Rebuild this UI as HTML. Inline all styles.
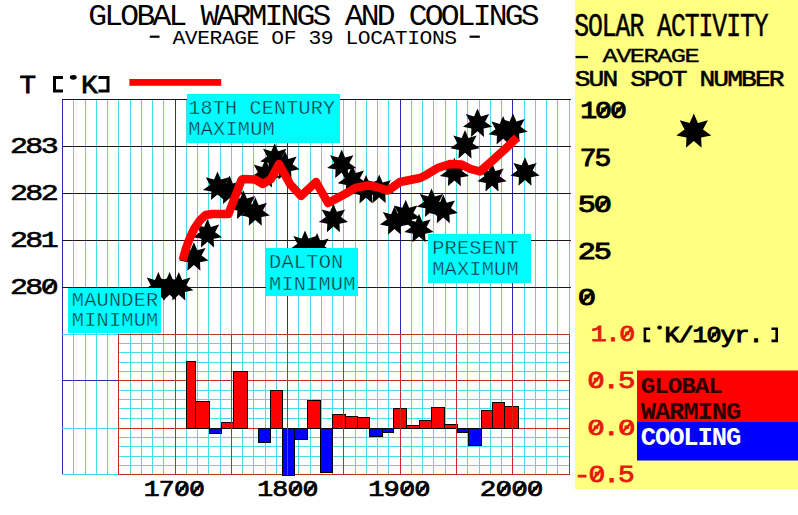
<!DOCTYPE html>
<html><head><meta charset="utf-8"><style>
html,body{margin:0;padding:0;background:#fff;}
svg{display:block;}
text{white-space:pre;}
</style></head><body>
<svg width="798" height="515" viewBox="0 0 798 515">
<rect x="0" y="0" width="798" height="515" fill="#fff"/>
<rect x="575" y="0" width="223" height="489" fill="#ffff80"/>
<g shape-rendering="crispEdges">
<rect x="62" y="99" width="1" height="376" fill="#2a2ab4"/>
<rect x="73" y="99" width="1" height="376" fill="#44dce8"/>
<rect x="85" y="99" width="1" height="376" fill="#44dce8"/>
<rect x="96" y="99" width="1" height="376" fill="#44dce8"/>
<rect x="107" y="99" width="1" height="376" fill="#44dce8"/>
<rect x="118" y="99" width="1" height="235" fill="#44dce8"/>
<rect x="130" y="99" width="1" height="376" fill="#44dce8"/>
<rect x="141" y="99" width="1" height="376" fill="#44dce8"/>
<rect x="152" y="99" width="1" height="376" fill="#44dce8"/>
<rect x="163" y="99" width="1" height="376" fill="#44dce8"/>
<rect x="175" y="99" width="1" height="235" fill="#2a2ab4"/>
<rect x="186" y="99" width="1" height="376" fill="#44dce8"/>
<rect x="197" y="99" width="1" height="376" fill="#44dce8"/>
<rect x="208" y="99" width="1" height="376" fill="#44dce8"/>
<rect x="220" y="99" width="1" height="376" fill="#44dce8"/>
<rect x="231" y="99" width="1" height="235" fill="#44dce8"/>
<rect x="242" y="99" width="1" height="376" fill="#44dce8"/>
<rect x="253" y="99" width="1" height="376" fill="#44dce8"/>
<rect x="265" y="99" width="1" height="376" fill="#44dce8"/>
<rect x="276" y="99" width="1" height="376" fill="#44dce8"/>
<rect x="287" y="99" width="1" height="235" fill="#2a2ab4"/>
<rect x="298" y="99" width="1" height="376" fill="#44dce8"/>
<rect x="310" y="99" width="1" height="376" fill="#44dce8"/>
<rect x="321" y="99" width="1" height="376" fill="#44dce8"/>
<rect x="332" y="99" width="1" height="376" fill="#44dce8"/>
<rect x="343" y="99" width="1" height="235" fill="#44dce8"/>
<rect x="355" y="99" width="1" height="376" fill="#44dce8"/>
<rect x="366" y="99" width="1" height="376" fill="#44dce8"/>
<rect x="377" y="99" width="1" height="376" fill="#44dce8"/>
<rect x="388" y="99" width="1" height="376" fill="#44dce8"/>
<rect x="400" y="99" width="1" height="235" fill="#2a2ab4"/>
<rect x="411" y="99" width="1" height="376" fill="#44dce8"/>
<rect x="422" y="99" width="1" height="376" fill="#44dce8"/>
<rect x="433" y="99" width="1" height="376" fill="#44dce8"/>
<rect x="445" y="99" width="1" height="376" fill="#44dce8"/>
<rect x="456" y="99" width="1" height="235" fill="#44dce8"/>
<rect x="467" y="99" width="1" height="376" fill="#44dce8"/>
<rect x="479" y="99" width="1" height="376" fill="#44dce8"/>
<rect x="490" y="99" width="1" height="376" fill="#44dce8"/>
<rect x="501" y="99" width="1" height="376" fill="#44dce8"/>
<rect x="512" y="99" width="1" height="235" fill="#2a2ab4"/>
<rect x="524" y="99" width="1" height="376" fill="#44dce8"/>
<rect x="535" y="99" width="1" height="376" fill="#44dce8"/>
<rect x="546" y="99" width="1" height="376" fill="#44dce8"/>
<rect x="557" y="99" width="1" height="376" fill="#44dce8"/>
<rect x="569" y="99" width="1" height="235" fill="#44dce8"/>
<rect x="62" y="99" width="509" height="1" fill="#181818"/>
<rect x="62" y="146" width="509" height="1" fill="#181818"/>
<rect x="62" y="193" width="509" height="1" fill="#181818"/>
<rect x="62" y="240" width="509" height="1" fill="#181818"/>
<rect x="62" y="287" width="509" height="1" fill="#181818"/>
<rect x="62" y="334" width="57" height="1" fill="#44dce8"/>
<rect x="62" y="380" width="57" height="1" fill="#2a2ab4"/>
<rect x="62" y="428" width="57" height="1" fill="#44dce8"/>
<rect x="62" y="474" width="57" height="1" fill="#44dce8"/>
<rect x="118" y="334" width="452" height="1" fill="#a8402e"/>
<rect x="118" y="343" width="452" height="1" fill="#44dce8"/>
<rect x="118" y="352" width="452" height="1" fill="#44dce8"/>
<rect x="118" y="362" width="452" height="1" fill="#44dce8"/>
<rect x="118" y="371" width="452" height="1" fill="#44dce8"/>
<rect x="118" y="380" width="452" height="1" fill="#c42a22"/>
<rect x="118" y="390" width="452" height="1" fill="#44dce8"/>
<rect x="118" y="399" width="452" height="1" fill="#44dce8"/>
<rect x="118" y="408" width="452" height="1" fill="#44dce8"/>
<rect x="118" y="418" width="452" height="1" fill="#44dce8"/>
<rect x="118" y="428" width="452" height="1" fill="#c42a22"/>
<rect x="118" y="437" width="452" height="1" fill="#44dce8"/>
<rect x="118" y="446" width="452" height="1" fill="#44dce8"/>
<rect x="118" y="456" width="452" height="1" fill="#44dce8"/>
<rect x="118" y="465" width="452" height="1" fill="#44dce8"/>
<rect x="118" y="474" width="452" height="1" fill="#c42a22"/>
<rect x="186.5" y="361.5" width="9" height="67" fill="#ff0000" stroke="#000" stroke-width="1"/>
<rect x="195.5" y="401.5" width="14" height="27" fill="#ff0000" stroke="#000" stroke-width="1"/>
<rect x="209.5" y="428.5" width="12" height="5" fill="#0000ff" stroke="#000" stroke-width="1"/>
<rect x="221.5" y="422.5" width="12" height="6" fill="#ff0000" stroke="#000" stroke-width="1"/>
<rect x="233.5" y="371.5" width="14" height="57" fill="#ff0000" stroke="#000" stroke-width="1"/>
<rect x="258.5" y="428.5" width="12" height="14" fill="#0000ff" stroke="#000" stroke-width="1"/>
<rect x="270.5" y="390.5" width="12" height="38" fill="#ff0000" stroke="#000" stroke-width="1"/>
<rect x="282.5" y="428.5" width="12" height="47" fill="#0000ff" stroke="#000" stroke-width="1"/>
<rect x="294.5" y="428.5" width="13" height="11" fill="#0000ff" stroke="#000" stroke-width="1"/>
<rect x="307.5" y="400.5" width="13" height="28" fill="#ff0000" stroke="#000" stroke-width="1"/>
<rect x="320.5" y="428.5" width="12" height="44" fill="#0000ff" stroke="#000" stroke-width="1"/>
<rect x="332.5" y="414.5" width="13" height="14" fill="#ff0000" stroke="#000" stroke-width="1"/>
<rect x="345.5" y="416.5" width="12" height="12" fill="#ff0000" stroke="#000" stroke-width="1"/>
<rect x="357.5" y="417.5" width="12" height="11" fill="#ff0000" stroke="#000" stroke-width="1"/>
<rect x="369.5" y="428.5" width="13" height="8" fill="#0000ff" stroke="#000" stroke-width="1"/>
<rect x="382.5" y="428.5" width="11" height="4" fill="#0000ff" stroke="#000" stroke-width="1"/>
<rect x="393.5" y="408.5" width="13" height="20" fill="#ff0000" stroke="#000" stroke-width="1"/>
<rect x="406.5" y="425.5" width="13" height="3" fill="#ff0000" stroke="#000" stroke-width="1"/>
<rect x="419.5" y="420.5" width="12" height="8" fill="#ff0000" stroke="#000" stroke-width="1"/>
<rect x="431.5" y="407.5" width="13" height="21" fill="#ff0000" stroke="#000" stroke-width="1"/>
<rect x="444.5" y="424.5" width="13" height="4" fill="#ff0000" stroke="#000" stroke-width="1"/>
<rect x="457.5" y="428.5" width="11" height="4" fill="#0000ff" stroke="#000" stroke-width="1"/>
<rect x="468.5" y="428.5" width="13" height="17" fill="#0000ff" stroke="#000" stroke-width="1"/>
<rect x="481.5" y="410.5" width="11" height="18" fill="#ff0000" stroke="#000" stroke-width="1"/>
<rect x="492.5" y="402.5" width="12" height="26" fill="#ff0000" stroke="#000" stroke-width="1"/>
<rect x="504.5" y="406.5" width="14" height="22" fill="#ff0000" stroke="#000" stroke-width="1"/>
<rect x="118" y="334" width="1" height="141" fill="#c42a22"/>
<rect x="175" y="334" width="1" height="141" fill="#c42a22"/>
<rect x="231" y="334" width="1" height="141" fill="#c42a22"/>
<rect x="287" y="334" width="1" height="141" fill="#c42a22"/>
<rect x="343" y="334" width="1" height="141" fill="#c42a22"/>
<rect x="400" y="334" width="1" height="141" fill="#c42a22"/>
<rect x="456" y="334" width="1" height="141" fill="#c42a22"/>
<rect x="512" y="334" width="1" height="141" fill="#c42a22"/>
<rect x="569" y="334" width="1" height="141" fill="#c42a22"/>
</g>
<path d="M158.4,272.0 L161.8,280.0 L170.1,277.6 L166.0,285.3 L173.0,290.3 L164.5,291.9 L164.9,300.5 L158.4,294.8 L151.9,300.5 L152.3,291.9 L143.8,290.3 L150.8,285.3 L146.7,277.6 L155.0,280.0Z" fill="#000"/>
<path d="M169.6,272.0 L173.0,280.0 L181.3,277.6 L177.2,285.3 L184.2,290.3 L175.7,291.9 L176.1,300.5 L169.6,294.8 L163.1,300.5 L163.5,291.9 L155.0,290.3 L162.0,285.3 L157.9,277.6 L166.2,280.0Z" fill="#000"/>
<path d="M178.8,272.0 L182.2,280.0 L190.5,277.6 L186.4,285.3 L193.4,290.3 L184.9,291.9 L185.3,300.5 L178.8,294.8 L172.3,300.5 L172.7,291.9 L164.2,290.3 L171.2,285.3 L167.1,277.6 L175.4,280.0Z" fill="#000"/>
<path d="M193.9,242.3 L197.3,250.3 L205.6,247.9 L201.5,255.6 L208.5,260.6 L200.0,262.2 L200.4,270.8 L193.9,265.1 L187.4,270.8 L187.8,262.2 L179.3,260.6 L186.3,255.6 L182.2,247.9 L190.5,250.3Z" fill="#000"/>
<path d="M207.5,218.9 L210.9,226.9 L219.2,224.5 L215.1,232.2 L222.1,237.2 L213.6,238.8 L214.0,247.4 L207.5,241.7 L201.0,247.4 L201.4,238.8 L192.9,237.2 L199.9,232.2 L195.8,224.5 L204.1,226.9Z" fill="#000"/>
<path d="M217.5,171.6 L220.9,179.6 L229.2,177.2 L225.1,184.9 L232.1,189.9 L223.6,191.5 L224.0,200.1 L217.5,194.4 L211.0,200.1 L211.4,191.5 L202.9,189.9 L209.9,184.9 L205.8,177.2 L214.1,179.6Z" fill="#000"/>
<path d="M229.5,175.5 L232.9,183.5 L241.2,181.1 L237.1,188.8 L244.1,193.8 L235.6,195.4 L236.0,204.0 L229.5,198.3 L223.0,204.0 L223.4,195.4 L214.9,193.8 L221.9,188.8 L217.8,181.1 L226.1,183.5Z" fill="#000"/>
<path d="M243.5,190.5 L246.9,198.5 L255.2,196.1 L251.1,203.8 L258.1,208.8 L249.6,210.4 L250.0,219.0 L243.5,213.3 L237.0,219.0 L237.4,210.4 L228.9,208.8 L235.9,203.8 L231.8,196.1 L240.1,198.5Z" fill="#000"/>
<path d="M255.3,197.2 L258.7,205.2 L267.0,202.8 L262.9,210.5 L269.9,215.5 L261.4,217.1 L261.8,225.7 L255.3,220.0 L248.8,225.7 L249.2,217.1 L240.7,215.5 L247.7,210.5 L243.6,202.8 L251.9,205.2Z" fill="#000"/>
<path d="M265.5,159.0 L268.9,167.0 L277.2,164.6 L273.1,172.3 L280.1,177.3 L271.6,178.9 L272.0,187.5 L265.5,181.8 L259.0,187.5 L259.4,178.9 L250.9,177.3 L257.9,172.3 L253.8,164.6 L262.1,167.0Z" fill="#000"/>
<path d="M274.7,143.2 L278.1,151.2 L286.4,148.8 L282.3,156.5 L289.3,161.5 L280.8,163.1 L281.2,171.7 L274.7,166.0 L268.2,171.7 L268.6,163.1 L260.1,161.5 L267.1,156.5 L263.0,148.8 L271.3,151.2Z" fill="#000"/>
<path d="M285.0,151.0 L288.4,159.0 L296.7,156.6 L292.6,164.3 L299.6,169.3 L291.1,170.9 L291.5,179.5 L285.0,173.8 L278.5,179.5 L278.9,170.9 L270.4,169.3 L277.4,164.3 L273.3,156.6 L281.6,159.0Z" fill="#000"/>
<path d="M305.0,230.5 L308.4,238.5 L316.7,236.1 L312.6,243.8 L319.6,248.8 L311.1,250.4 L311.5,259.0 L305.0,253.3 L298.5,259.0 L298.9,250.4 L290.4,248.8 L297.4,243.8 L293.3,236.1 L301.6,238.5Z" fill="#000"/>
<path d="M317.0,233.0 L320.4,241.0 L328.7,238.6 L324.6,246.3 L331.6,251.3 L323.1,252.9 L323.5,261.5 L317.0,255.8 L310.5,261.5 L310.9,252.9 L302.4,251.3 L309.4,246.3 L305.3,238.6 L313.6,241.0Z" fill="#000"/>
<path d="M333.4,203.8 L336.8,211.8 L345.1,209.4 L341.0,217.1 L348.0,222.1 L339.5,223.7 L339.9,232.3 L333.4,226.6 L326.9,232.3 L327.3,223.7 L318.8,222.1 L325.8,217.1 L321.7,209.4 L330.0,211.8Z" fill="#000"/>
<path d="M341.7,149.6 L345.1,157.6 L353.4,155.2 L349.3,162.9 L356.3,167.9 L347.8,169.5 L348.2,178.1 L341.7,172.4 L335.2,178.1 L335.6,169.5 L327.1,167.9 L334.1,162.9 L330.0,155.2 L338.3,157.6Z" fill="#000"/>
<path d="M352.3,165.0 L355.7,173.0 L364.0,170.6 L359.9,178.3 L366.9,183.3 L358.4,184.9 L358.8,193.5 L352.3,187.8 L345.8,193.5 L346.2,184.9 L337.7,183.3 L344.7,178.3 L340.6,170.6 L348.9,173.0Z" fill="#000"/>
<path d="M366.0,175.0 L369.4,183.0 L377.7,180.6 L373.6,188.3 L380.6,193.3 L372.1,194.9 L372.5,203.5 L366.0,197.8 L359.5,203.5 L359.9,194.9 L351.4,193.3 L358.4,188.3 L354.3,180.6 L362.6,183.0Z" fill="#000"/>
<path d="M379.2,174.6 L382.6,182.6 L390.9,180.2 L386.8,187.9 L393.8,192.9 L385.3,194.5 L385.7,203.1 L379.2,197.4 L372.7,203.1 L373.1,194.5 L364.6,192.9 L371.6,187.9 L367.5,180.2 L375.8,182.6Z" fill="#000"/>
<path d="M394.5,206.3 L397.9,214.3 L406.2,211.9 L402.1,219.6 L409.1,224.6 L400.6,226.2 L401.0,234.8 L394.5,229.1 L388.0,234.8 L388.4,226.2 L379.9,224.6 L386.9,219.6 L382.8,211.9 L391.1,214.3Z" fill="#000"/>
<path d="M405.7,199.8 L409.1,207.8 L417.4,205.4 L413.3,213.1 L420.3,218.1 L411.8,219.7 L412.2,228.3 L405.7,222.6 L399.2,228.3 L399.6,219.7 L391.1,218.1 L398.1,213.1 L394.0,205.4 L402.3,207.8Z" fill="#000"/>
<path d="M419.0,213.8 L422.4,221.8 L430.7,219.4 L426.6,227.1 L433.6,232.1 L425.1,233.7 L425.5,242.3 L419.0,236.6 L412.5,242.3 L412.9,233.7 L404.4,232.1 L411.4,227.1 L407.3,219.4 L415.6,221.8Z" fill="#000"/>
<path d="M431.5,188.4 L434.9,196.4 L443.2,194.0 L439.1,201.7 L446.1,206.7 L437.6,208.3 L438.0,216.9 L431.5,211.2 L425.0,216.9 L425.4,208.3 L416.9,206.7 L423.9,201.7 L419.8,194.0 L428.1,196.4Z" fill="#000"/>
<path d="M443.3,194.8 L446.7,202.8 L455.0,200.4 L450.9,208.1 L457.9,213.1 L449.4,214.7 L449.8,223.3 L443.3,217.6 L436.8,223.3 L437.2,214.7 L428.7,213.1 L435.7,208.1 L431.6,200.4 L439.9,202.8Z" fill="#000"/>
<path d="M454.4,157.7 L457.8,165.7 L466.1,163.3 L462.0,171.0 L469.0,176.0 L460.5,177.6 L460.9,186.2 L454.4,180.5 L447.9,186.2 L448.3,177.6 L439.8,176.0 L446.8,171.0 L442.7,163.3 L451.0,165.7Z" fill="#000"/>
<path d="M465.0,130.0 L468.4,138.0 L476.7,135.6 L472.6,143.3 L479.6,148.3 L471.1,149.9 L471.5,158.5 L465.0,152.8 L458.5,158.5 L458.9,149.9 L450.4,148.3 L457.4,143.3 L453.3,135.6 L461.6,138.0Z" fill="#000"/>
<path d="M477.5,108.5 L480.9,116.5 L489.2,114.1 L485.1,121.8 L492.1,126.8 L483.6,128.4 L484.0,137.0 L477.5,131.3 L471.0,137.0 L471.4,128.4 L462.9,126.8 L469.9,121.8 L465.8,114.1 L474.1,116.5Z" fill="#000"/>
<path d="M492.0,163.0 L495.4,171.0 L503.7,168.6 L499.6,176.3 L506.6,181.3 L498.1,182.9 L498.5,191.5 L492.0,185.8 L485.5,191.5 L485.9,182.9 L477.4,181.3 L484.4,176.3 L480.3,168.6 L488.6,171.0Z" fill="#000"/>
<path d="M503.1,115.9 L506.5,123.9 L514.8,121.5 L510.7,129.2 L517.7,134.2 L509.2,135.8 L509.6,144.4 L503.1,138.7 L496.6,144.4 L497.0,135.8 L488.5,134.2 L495.5,129.2 L491.4,121.5 L499.7,123.9Z" fill="#000"/>
<path d="M513.0,113.5 L516.4,121.5 L524.7,119.1 L520.6,126.8 L527.6,131.8 L519.1,133.4 L519.5,142.0 L513.0,136.3 L506.5,142.0 L506.9,133.4 L498.4,131.8 L505.4,126.8 L501.3,119.1 L509.6,121.5Z" fill="#000"/>
<path d="M525.0,157.3 L528.4,165.3 L536.7,162.9 L532.6,170.6 L539.6,175.6 L531.1,177.2 L531.5,185.8 L525.0,180.1 L518.5,185.8 L518.9,177.2 L510.4,175.6 L517.4,170.6 L513.3,162.9 L521.6,165.3Z" fill="#000"/>
<polyline points="182.6,260.5 185.7,249.3 190,237.6 194.4,228.3 199.6,220.8 205.5,215 212,214 228.5,214 241.5,180 243,179 255,179.5 263,184 271,179 279,164 290,184 301,196 316,182 328,203 345,194 356,187.6 368,185.5 375,186.5 388,190.5 400,182 410,180 420,178 426.6,174.7 438.3,167.7 450,164 461.6,164.6 470.7,169 480,171.5 492,161 508,146.3 517,137.5" fill="none" stroke="#ff0000" stroke-width="8.5" stroke-linejoin="round" stroke-linecap="butt"/>
<rect x="187" y="94" width="153" height="49" fill="#00fcff"/><text transform="scale(1.0024,1)" x="193.91 206.11 218.32 230.52 242.72 254.93 267.13 279.33 291.54 303.74 315.94 328.15" y="113.9" text-anchor="middle" font-family="'Liberation Mono', monospace" font-size="20.04" font-weight="normal" fill="#0a2a30" stroke="#00fcff" stroke-width="0.45">18TH CENTURY</text><text transform="scale(1.0134,1)" x="191.85 204.05 216.26 228.46 240.66 252.87 265.07" y="135.2" text-anchor="middle" font-family="'Liberation Mono', monospace" font-size="20.04" font-weight="normal" fill="#0a2a30" stroke="#00fcff" stroke-width="0.45">MAXIMUM</text>
<rect x="266" y="248" width="92" height="48" fill="#00fcff"/><text transform="scale(1.0179,1)" x="270.30 282.51 294.71 306.91 319.12 331.32" y="268.0" text-anchor="middle" font-family="'Liberation Mono', monospace" font-size="20.04" font-weight="normal" fill="#0a2a30" stroke="#00fcff" stroke-width="0.45">DALTON</text><text transform="scale(1.0134,1)" x="271.48 283.68 295.89 308.09 320.29 332.50 344.70" y="289.8" text-anchor="middle" font-family="'Liberation Mono', monospace" font-size="20.04" font-weight="normal" fill="#0a2a30" stroke="#00fcff" stroke-width="0.45">MINIMUM</text>
<rect x="428" y="234" width="103" height="49" fill="#00fcff"/><text transform="scale(1.0134,1)" x="432.52 444.72 456.93 469.13 481.33 493.54 505.74" y="254.0" text-anchor="middle" font-family="'Liberation Mono', monospace" font-size="20.04" font-weight="normal" fill="#0a2a30" stroke="#00fcff" stroke-width="0.45">PRESENT</text><text transform="scale(1.0134,1)" x="432.52 444.72 456.93 469.13 481.33 493.54 505.74" y="275.0" text-anchor="middle" font-family="'Liberation Mono', monospace" font-size="20.04" font-weight="normal" fill="#0a2a30" stroke="#00fcff" stroke-width="0.45">MAXIMUM</text>
<rect x="68" y="288" width="93" height="45" fill="#00fcff"/><text transform="scale(1.0134,1)" x="76.89 89.10 101.30 113.50 125.71 137.91 150.11" y="305.8" text-anchor="middle" font-family="'Liberation Mono', monospace" font-size="20.04" font-weight="normal" fill="#0a2a30" stroke="#00fcff" stroke-width="0.45">MAUNDER</text><text transform="scale(1.0134,1)" x="76.89 89.10 101.30 113.50 125.71 137.91 150.11" y="326.4" text-anchor="middle" font-family="'Liberation Mono', monospace" font-size="20.04" font-weight="normal" fill="#0a2a30" stroke="#00fcff" stroke-width="0.45">MINIMUM</text>
<path d="M693.8,113.5 L697.9,123.0 L707.9,120.3 L703.0,129.4 L711.3,135.5 L701.1,137.4 L701.6,147.7 L693.8,140.9 L686.0,147.7 L686.5,137.4 L676.3,135.5 L684.6,129.4 L679.7,120.3 L689.7,123.0Z" fill="#000"/>
<rect x="637" y="370.5" width="161" height="51.5" fill="#ff0000"/><rect x="637" y="422" width="161" height="38.5" fill="#0000ff"/><text transform="scale(1.1046,1)" x="586.72 598.95 611.18 623.41 635.64 647.87" y="393.5" text-anchor="middle" font-family="'Liberation Mono', monospace" font-size="22.01" font-weight="bold" fill="#2a0000" >GLOBAL</text><text transform="scale(1.0591,1)" x="612.21 625.62 639.03 652.44 665.85 679.26 692.67" y="419.2" text-anchor="middle" font-family="'Liberation Mono', monospace" font-size="24.14" font-weight="bold" fill="#2a0000" >WARMING</text><text transform="scale(1.0084,1)" x="643.01 657.09 671.18 685.26 699.35 713.43 727.52" y="445.2" text-anchor="middle" font-family="'Liberation Mono', monospace" font-size="25.35" font-weight="bold" fill="#ffffff" >COOLING</text>
<text transform="scale(1.0594,1)" x="92.27 107.39 122.51 137.63 152.75 167.87 182.99 198.11 213.23 228.35 243.47 258.59 273.71 288.83 303.95 319.07 334.19 349.31 364.43 379.55 394.67 409.79 424.91 440.03 455.15 470.27 485.39 500.51" y="24.8" text-anchor="middle" font-family="'Liberation Mono', monospace" font-size="29.60" font-weight="normal" fill="#000" >GLOBAL WARMINGS AND COOLINGS</text>
<text transform="scale(1.0332,1)" x="173.11 185.07 197.03 208.99 220.95 232.91 244.87 256.83 268.79 280.75 292.71 304.67 316.63 328.59 340.55 352.51 364.47 376.43 388.39 400.35 412.31 424.27 436.23" y="43.8" text-anchor="middle" font-family="'Liberation Mono', monospace" font-size="20.65" font-weight="normal" fill="#000" >AVERAGE OF 39 LOCATIONS</text>
<rect x="149.8" y="35.6" width="9.7" height="2.2" fill="#000"/>
<rect x="469.6" y="35.6" width="10.2" height="2.2" fill="#000"/>
<text transform="scale(1.0813,1)" x="25.66" y="92.6" text-anchor="middle" font-family="'Liberation Mono', monospace" font-size="25.50" font-weight="normal" fill="#000" stroke="#000" stroke-width="0.8" >T</text>
<path d="M63,77.5 H54.5 V91.1 H63" fill="none" stroke="#000" stroke-width="3.0"/>
<ellipse cx="73.3" cy="77.3" rx="3.4" ry="2.4" fill="#000"/>
<text transform="scale(1.0896,1)" x="81.96" y="92.6" text-anchor="middle" font-family="'Liberation Mono', monospace" font-size="25.50" font-weight="normal" fill="#000" stroke="#000" stroke-width="0.8" >K</text>
<path d="M98.5,77.5 H108.0 V91.1 H98.5" fill="none" stroke="#000" stroke-width="3.0"/>
<rect x="129.4" y="79" width="91.8" height="6.8" fill="#ff0000"/>
<text transform="scale(1.3050,1)" x="14.49 26.32 38.16" y="152.6" text-anchor="middle" font-family="'Liberation Mono', monospace" font-size="22.92" font-weight="normal" fill="#000" stroke="#000" stroke-width="0.6" >283</text>
<text transform="scale(1.3050,1)" x="14.49 26.32 38.16" y="199.6" text-anchor="middle" font-family="'Liberation Mono', monospace" font-size="22.92" font-weight="normal" fill="#000" stroke="#000" stroke-width="0.6" >282</text>
<text transform="scale(1.3050,1)" x="14.49 26.32 38.16" y="246.6" text-anchor="middle" font-family="'Liberation Mono', monospace" font-size="22.92" font-weight="normal" fill="#000" stroke="#000" stroke-width="0.6" >281</text>
<text transform="scale(1.3050,1)" x="14.49 26.32 38.16" y="293.6" text-anchor="middle" font-family="'Liberation Mono', monospace" font-size="22.92" font-weight="normal" fill="#000" stroke="#000" stroke-width="0.6" >280</text><line x1="53.77" y1="281.82" x2="45.82" y2="290.28" stroke="#000" stroke-width="2.6"/>
<text transform="scale(1.1669,1)" x="130.10 142.98 155.85 168.73" y="496.3" text-anchor="middle" font-family="'Liberation Mono', monospace" font-size="22.77" font-weight="normal" fill="#000" stroke="#000" stroke-width="0.7" >1700</text><line x1="185.40" y1="484.60" x2="178.33" y2="493.00" stroke="#000" stroke-width="2.6"/><line x1="200.42" y1="484.60" x2="193.35" y2="493.00" stroke="#000" stroke-width="2.6"/>
<text transform="scale(1.1669,1)" x="227.37 240.24 253.12 266.00" y="496.3" text-anchor="middle" font-family="'Liberation Mono', monospace" font-size="22.77" font-weight="normal" fill="#000" stroke="#000" stroke-width="0.7" >1800</text><line x1="298.90" y1="484.60" x2="291.83" y2="493.00" stroke="#000" stroke-width="2.6"/><line x1="313.92" y1="484.60" x2="306.85" y2="493.00" stroke="#000" stroke-width="2.6"/>
<text transform="scale(1.1911,1)" x="316.03 328.91 341.79 354.66" y="496.3" text-anchor="middle" font-family="'Liberation Mono', monospace" font-size="22.77" font-weight="normal" fill="#000" stroke="#000" stroke-width="0.7" >1900</text><line x1="410.73" y1="484.60" x2="403.51" y2="493.00" stroke="#000" stroke-width="2.6"/><line x1="426.07" y1="484.60" x2="418.85" y2="493.00" stroke="#000" stroke-width="2.6"/>
<text transform="scale(1.2154,1)" x="401.65 414.53 427.41 440.28" y="496.3" text-anchor="middle" font-family="'Liberation Mono', monospace" font-size="22.77" font-weight="normal" fill="#000" stroke="#000" stroke-width="0.7" >2000</text><line x1="507.51" y1="484.60" x2="500.14" y2="493.00" stroke="#000" stroke-width="2.6"/><line x1="523.16" y1="484.60" x2="515.79" y2="493.00" stroke="#000" stroke-width="2.6"/><line x1="538.81" y1="484.60" x2="531.45" y2="493.00" stroke="#000" stroke-width="2.6"/>
<text transform="scale(0.7612,1)" x="764.03 782.19 800.35 818.50 836.66 854.81 872.97 891.12 909.28 927.43 945.59 963.74 981.90 1000.05" y="36.4" text-anchor="middle" font-family="'Liberation Mono', monospace" font-size="32.49" font-weight="normal" fill="#000" stroke="#000" stroke-width="0.5" >SOLAR ACTIVITY</text>
<text transform="scale(1.3012,1)" x="468.88 479.37 489.86 500.35 510.83 521.32 531.81" y="62.1" text-anchor="middle" font-family="'Liberation Mono', monospace" font-size="19.43" font-weight="normal" fill="#000" stroke="#000" stroke-width="0.35" >AVERAGE</text>
<rect x="575.5" y="55.9" width="12.5" height="2.3" fill="#000"/>
<text transform="scale(1.1461,1)" x="508.30 520.40 532.50 544.60 556.70 568.80 580.89 592.99 605.09 617.19 629.29 641.39 653.49 665.59 677.68" y="86.4" text-anchor="middle" font-family="'Liberation Mono', monospace" font-size="22.92" font-weight="normal" fill="#000" stroke="#000" stroke-width="0.55" >SUN SPOT NUMBER</text>
<text transform="scale(1.2203,1)" x="482.41 494.59 506.76" y="118" text-anchor="middle" font-family="'Liberation Mono', monospace" font-size="23.08" font-weight="normal" fill="#000" stroke="#000" stroke-width="0.9" >100</text><line x1="607.30" y1="106.14" x2="599.80" y2="114.66" stroke="#000" stroke-width="2.6"/><line x1="622.16" y1="106.14" x2="614.67" y2="114.66" stroke="#000" stroke-width="2.6"/>
<text transform="scale(1.1255,1)" x="522.57 535.71" y="165.7" text-anchor="middle" font-family="'Liberation Mono', monospace" font-size="24.90" font-weight="normal" fill="#000" stroke="#000" stroke-width="0.9" >75</text>
<text transform="scale(1.2759,1)" x="459.99 472.49" y="212.2" text-anchor="middle" font-family="'Liberation Mono', monospace" font-size="23.68" font-weight="normal" fill="#000" stroke="#000" stroke-width="0.9" >50</text><line x1="606.84" y1="200.03" x2="598.80" y2="208.77" stroke="#000" stroke-width="2.6"/>
<text transform="scale(1.2597,1)" x="465.88 478.54" y="259" text-anchor="middle" font-family="'Liberation Mono', monospace" font-size="23.99" font-weight="normal" fill="#000" stroke="#000" stroke-width="0.9" >25</text>
<text transform="scale(1.3142,1)" x="446.61" y="305" text-anchor="middle" font-family="'Liberation Mono', monospace" font-size="23.23" font-weight="normal" fill="#000" stroke="#000" stroke-width="0.9" >0</text><line x1="591.01" y1="293.07" x2="582.89" y2="301.63" stroke="#000" stroke-width="2.6"/>
<text transform="scale(1.2098,1)" x="494.81 506.69 518.57" y="340.7" text-anchor="middle" font-family="'Liberation Mono', monospace" font-size="22.01" font-weight="normal" fill="#e8180c" stroke="#e8180c" stroke-width="0.8" >1.0</text><line x1="630.92" y1="329.39" x2="623.83" y2="337.51" stroke="#e8180c" stroke-width="2.4"/>
<path d="M650.2,328.8 H644.9 V340.9 H650.2" fill="none" stroke="#000" stroke-width="2.6"/>
<ellipse cx="659.6" cy="327.6" rx="2.4" ry="2.1" fill="#000"/>
<text transform="scale(1.1214,1)" x="599.37 611.84 624.31 636.78 649.25 661.72 674.19" y="342.2" text-anchor="middle" font-family="'Liberation Mono', monospace" font-size="22.32" font-weight="normal" fill="#000" stroke="#000" stroke-width="1.0" >K/10yr.</text><line x1="717.43" y1="330.73" x2="710.77" y2="338.97" stroke="#000" stroke-width="2.2"/>
<path d="M771.5,328.8 H776.7 V340.9 H771.5" fill="none" stroke="#000" stroke-width="2.6"/>
<text transform="scale(1.2099,1)" x="492.55 505.29 518.03" y="388.5" text-anchor="middle" font-family="'Liberation Mono', monospace" font-size="24.14" font-weight="normal" fill="#e8180c" stroke="#e8180c" stroke-width="0.8" >0.5</text><line x1="599.82" y1="376.10" x2="592.05" y2="385.00" stroke="#e8180c" stroke-width="2.4"/>
<text transform="scale(1.2911,1)" x="461.57 473.51 485.45" y="434.9" text-anchor="middle" font-family="'Liberation Mono', monospace" font-size="22.62" font-weight="normal" fill="#e8180c" stroke="#e8180c" stroke-width="0.8" >0.0</text><line x1="599.82" y1="423.28" x2="592.05" y2="431.62" stroke="#e8180c" stroke-width="2.4"/><line x1="630.65" y1="423.28" x2="622.88" y2="431.62" stroke="#e8180c" stroke-width="2.4"/>
<text transform="scale(1.1872,1)" x="490.36 502.78 515.20 527.62" y="482.5" text-anchor="middle" font-family="'Liberation Mono', monospace" font-size="23.53" font-weight="normal" fill="#e8180c" stroke="#e8180c" stroke-width="0.8" >-0.5</text><line x1="600.59" y1="470.41" x2="593.16" y2="479.09" stroke="#e8180c" stroke-width="2.4"/>
</svg>
</body></html>
